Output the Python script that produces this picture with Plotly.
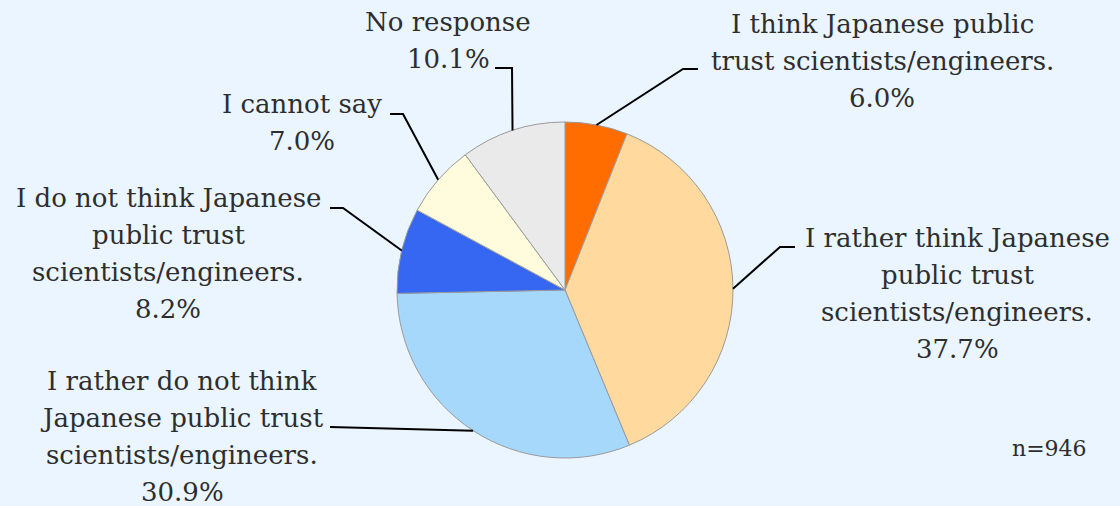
import math
import plotly.graph_objects as go

# Survey answers, clockwise from 12 o'clock
categories = [
    "I think Japanese public trust scientists/engineers.",
    "I rather think Japanese public trust scientists/engineers.",
    "I rather do not think Japanese public trust scientists/engineers.",
    "I do not think Japanese public trust scientists/engineers.",
    "I cannot say",
    "No response",
]
shares = [6.0, 37.7, 30.9, 8.2, 7.0, 10.1]
label_lines = [
    ["I think Japanese public", "trust scientists/engineers.", "6.0%"],
    ["I rather think Japanese", "public trust", "scientists/engineers.", "37.7%"],
    ["I rather do not think", "Japanese public trust", "scientists/engineers.", "30.9%"],
    ["I do not think Japanese", "public trust", "scientists/engineers.", "8.2%"],
    ["I cannot say", "7.0%"],
    ["No response", "10.1%"],
]
colors = ["#FF6D00", "#FFD99E", "#A6D8FC", "#3567F2", "#FFFCDD", "#EAEAEA"]
sample_note = "n=946"

W, H = 1120, 506
CX, CY, R = 565, 290, 168  # pie centre and radius in pixels
FONT = "DejaVu Serif"
TEXT_COLOR = "#2E2E2E"
FS = 26
LINE_H = 37

# label block placement: (centre x, first baseline y), and leader path knots
label_pos = [(882, 33), (957, 247), (182, 390), (168, 207), (302, 113), (448, 31)]
leader_knots = [
    [(683, 69), (698, 69)],
    [(780, 247), (795, 247)],
    [(330, 427)],
    [(343, 208), (330, 208)],
    [(403, 114), (390, 114)],
    [(512, 68), (495, 68)],
]


def px_x(x):
    return x / W


def px_y(y):
    return 1 - y / H


fig = go.Figure(
    go.Pie(
        labels=categories,
        values=shares,
        sort=False,
        direction="clockwise",
        rotation=0,
        marker=dict(colors=colors, line=dict(color="#9A9A9A", width=1)),
        textinfo="none",
        hoverinfo="label+percent",
        showlegend=False,
        domain=dict(x=[px_x(CX - R), px_x(CX + R)], y=[px_y(CY + R), px_y(CY - R)]),
    )
)

annotations = []
shapes = []
total = sum(shares)
cum = 0.0
for i, v in enumerate(shares):
    mid = (cum + v / 2) / total * 2 * math.pi
    cum += v
    # point on the rim at the slice's mid-angle
    ex = CX + R * math.sin(mid)
    ey = CY - R * math.cos(mid)
    pts = [(ex, ey)] + leader_knots[i]
    path = "M " + " L ".join(f"{px_x(x)},{px_y(y)}" for x, y in pts)
    shapes.append(dict(type="path", xref="paper", yref="paper", path=path,
                       line=dict(color="#000000", width=2)))
    lx, ly = label_pos[i]
    for k, line in enumerate(label_lines[i]):
        base = ly + k * LINE_H
        annotations.append(dict(
            x=px_x(lx), y=px_y(base - 0.36 * FS), xref="paper", yref="paper",
            text=line, showarrow=False, xanchor="center", yanchor="middle",
            font=dict(family=FONT, size=FS, color=TEXT_COLOR),
        ))

annotations.append(dict(
    x=px_x(1049), y=px_y(456 - 0.36 * 22), xref="paper", yref="paper",
    text=sample_note, showarrow=False, xanchor="center", yanchor="middle",
    font=dict(family=FONT, size=22, color=TEXT_COLOR),
))

fig.update_layout(
    width=W, height=H,
    margin=dict(l=0, r=0, t=0, b=0),
    paper_bgcolor="#EAF5FF",
    plot_bgcolor="#EAF5FF",
    annotations=annotations,
    shapes=shapes,
)

fig.write_html("out.html")
